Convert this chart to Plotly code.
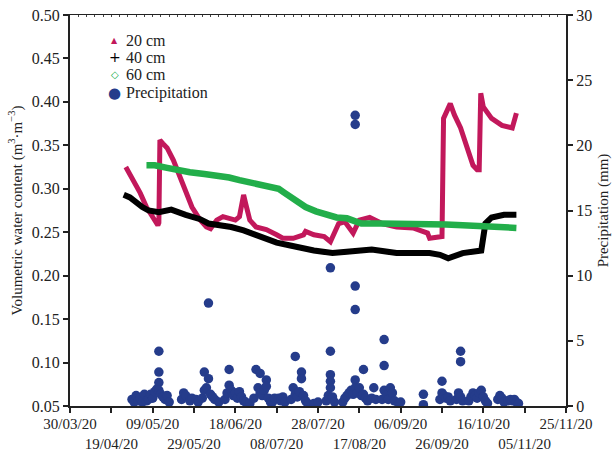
import plotly.graph_objects as go

# ---------------- data ----------------
tick_dates = ["2020-03-30", "2020-04-19", "2020-05-09", "2020-05-29", "2020-06-18",
              "2020-07-08", "2020-07-28", "2020-08-17", "2020-09-06", "2020-09-26",
              "2020-10-16", "2020-11-05", "2020-11-25"]
tick_labels = ["30/03/20", "19/04/20", "09/05/20", "29/05/20", "18/06/20", "08/07/20",
               "28/07/20", "17/08/20", "06/09/20", "26/09/20", "16/10/20", "05/11/20",
               "25/11/20"]

d20_dates = ["2020-04-26", "2020-04-29", "2020-05-03", "2020-05-06", "2020-05-09",
             "2020-05-11 12:00", "2020-05-12", "2020-05-12 12:00", "2020-05-14", "2020-05-16",
             "2020-05-19", "2020-05-22", "2020-05-25", "2020-05-28", "2020-06-01",
             "2020-06-04", "2020-06-06", "2020-06-09", "2020-06-12", "2020-06-15",
             "2020-06-18", "2020-06-20", "2020-06-22", "2020-06-23", "2020-06-25",
             "2020-06-28", "2020-07-03", "2020-07-08", "2020-07-11", "2020-07-16",
             "2020-07-21", "2020-07-22", "2020-07-26", "2020-07-31", "2020-08-03",
             "2020-08-07", "2020-08-10", "2020-08-14", "2020-08-17", "2020-08-22",
             "2020-08-28", "2020-09-04", "2020-09-12", "2020-09-19", "2020-09-20",
             "2020-09-26", "2020-09-26 18:00", "2020-09-30", "2020-10-02", "2020-10-05",
             "2020-10-08", "2020-10-11", "2020-10-13", "2020-10-14", "2020-10-14 18:00",
             "2020-10-16", "2020-10-20", "2020-10-25", "2020-10-30", "2020-11-01"]
d20_vwc = [0.325, 0.312, 0.295, 0.279, 0.266,
           0.258, 0.261, 0.356, 0.352, 0.347,
           0.333, 0.314, 0.297, 0.279, 0.264,
           0.256, 0.254, 0.264, 0.268, 0.266,
           0.264, 0.268, 0.293, 0.283, 0.264,
           0.256, 0.253, 0.247, 0.243, 0.243,
           0.247, 0.251, 0.247, 0.245, 0.239,
           0.260, 0.262, 0.249, 0.264, 0.267,
           0.260, 0.256, 0.255, 0.249, 0.243,
           0.245, 0.381, 0.398, 0.385, 0.370,
           0.347, 0.327, 0.322, 0.322, 0.410,
           0.394, 0.381, 0.373, 0.370, 0.387]

d40_dates = ["2020-04-25", "2020-04-28", "2020-05-04", "2020-05-07", "2020-05-12",
             "2020-05-18", "2020-05-25", "2020-06-01", "2020-06-05", "2020-06-11",
             "2020-06-16", "2020-06-22", "2020-06-28", "2020-07-03", "2020-07-08",
             "2020-07-14", "2020-07-19", "2020-07-26", "2020-08-04", "2020-08-11",
             "2020-08-17", "2020-08-23", "2020-08-29", "2020-09-04", "2020-09-13",
             "2020-09-20", "2020-09-25", "2020-09-29", "2020-10-06", "2020-10-13",
             "2020-10-15", "2020-10-17", "2020-10-20", "2020-10-26", "2020-11-01"]
d40_vwc = [0.293, 0.290, 0.279, 0.275, 0.273,
           0.276, 0.270, 0.265, 0.260, 0.258,
           0.256, 0.252, 0.247, 0.243, 0.238,
           0.235, 0.232, 0.229, 0.226, 0.227,
           0.228, 0.230, 0.228, 0.226, 0.226,
           0.226, 0.224, 0.220, 0.226, 0.228,
           0.229, 0.260, 0.267, 0.270, 0.270]

d60_dates = ["2020-05-06", "2020-05-10", "2020-05-16", "2020-05-22", "2020-05-27",
             "2020-06-03", "2020-06-08", "2020-06-15", "2020-06-20", "2020-06-27",
             "2020-07-04", "2020-07-09", "2020-07-12", "2020-07-17", "2020-07-22",
             "2020-07-27", "2020-08-01", "2020-08-06", "2020-08-11", "2020-08-15",
             "2020-08-18", "2020-08-27", "2020-09-04", "2020-09-13", "2020-09-20",
             "2020-09-28", "2020-10-06", "2020-10-14", "2020-10-19", "2020-10-26",
             "2020-11-01"]
d60_vwc = [0.327, 0.327, 0.324, 0.321, 0.319,
           0.317, 0.316, 0.313, 0.310, 0.307,
           0.304, 0.300, 0.295, 0.287, 0.279,
           0.274, 0.270, 0.267, 0.266, 0.263,
           0.260, 0.260, 0.260, 0.260, 0.260,
           0.259, 0.258, 0.257, 0.256, 0.256,
           0.255]

precip_dates = [
    "2020-04-29", "2020-04-30", "2020-05-01", "2020-05-02", "2020-05-03", "2020-05-04", "2020-05-05", "2020-05-06",
    "2020-05-07", "2020-05-08", "2020-05-09", "2020-05-10", "2020-05-11", "2020-05-12", "2020-05-12", "2020-05-12",
    "2020-05-12", "2020-05-13", "2020-05-14", "2020-05-15", "2020-05-16", "2020-05-17",
    "2020-05-23", "2020-05-24", "2020-05-25", "2020-05-27", "2020-05-28", "2020-05-30", "2020-05-31",
    "2020-06-02", "2020-06-03", "2020-06-03", "2020-06-04", "2020-06-05", "2020-06-05", "2020-06-06", "2020-06-07",
    "2020-06-08", "2020-06-10",
    "2020-06-13", "2020-06-14", "2020-06-15", "2020-06-15", "2020-06-16", "2020-06-17", "2020-06-18", "2020-06-19",
    "2020-06-20", "2020-06-21", "2020-06-22", "2020-06-23", "2020-06-25",
    "2020-06-27", "2020-06-28", "2020-06-29", "2020-06-30", "2020-06-30", "2020-07-01", "2020-07-02", "2020-07-03",
    "2020-07-03", "2020-07-04", "2020-07-05",
    "2020-07-06", "2020-07-07", "2020-07-09", "2020-07-10", "2020-07-11", "2020-07-12",
    "2020-07-15", "2020-07-16", "2020-07-17", "2020-07-17", "2020-07-18", "2020-07-19", "2020-07-20", "2020-07-20",
    "2020-07-21", "2020-07-22", "2020-07-23", "2020-07-26", "2020-07-28",
    "2020-08-01", "2020-08-02", "2020-08-03", "2020-08-03", "2020-08-03", "2020-08-03", "2020-08-03", "2020-08-04",
    "2020-08-05",
    "2020-08-09", "2020-08-10", "2020-08-11", "2020-08-12", "2020-08-13", "2020-08-14", "2020-08-15", "2020-08-15",
    "2020-08-15", "2020-08-15", "2020-08-15", "2020-08-15", "2020-08-16", "2020-08-17", "2020-08-18", "2020-08-19",
    "2020-08-19", "2020-08-20", "2020-08-21", "2020-08-23", "2020-08-24", "2020-08-25",
    "2020-08-28", "2020-08-29", "2020-08-29", "2020-08-29", "2020-08-30", "2020-08-31", "2020-09-01", "2020-09-02",
    "2020-09-03", "2020-09-05", "2020-09-06", "2020-09-17", "2020-09-17",
    "2020-09-25", "2020-09-26", "2020-09-26", "2020-09-27", "2020-09-28", "2020-09-29", "2020-09-30",
    "2020-10-03", "2020-10-04", "2020-10-05", "2020-10-05", "2020-10-05", "2020-10-06",
    "2020-10-09", "2020-10-10", "2020-10-11", "2020-10-12", "2020-10-13", "2020-10-14", "2020-10-15", "2020-10-16",
    "2020-10-17", "2020-10-18",
    "2020-10-23", "2020-10-24", "2020-10-25", "2020-10-26", "2020-10-28", "2020-10-29", "2020-10-30", "2020-10-31",
    "2020-11-01", "2020-11-02"]
precip_mm = [
    0.5, 0.3, 0.8, 0.4, 0.6, 0.3, 0.9, 0.4,
    0.5, 0.9, 0.6, 1.1, 1.3, 4.2, 2.6, 1.8,
    1.2, 0.9, 0.7, 0.5, 0.8, 0.3,
    0.5, 1.0, 0.8, 0.4, 0.6, 0.5, 0.3,
    0.6, 2.6, 1.2, 1.4, 7.9, 2.1, 0.9, 0.7,
    0.5, 0.3,
    0.5, 1.0, 2.8, 1.6, 1.2, 0.8, 1.0, 0.6,
    1.1, 0.7, 0.4, 0.3, 0.2,
    0.6, 2.8, 1.4, 2.5, 1.0, 0.8, 1.2, 2.0,
    1.5, 0.6, 0.3,
    0.3, 0.6, 0.6, 0.4, 0.7, 0.3,
    0.5, 1.4, 3.8, 0.9, 0.7, 1.1, 2.6, 2.1,
    0.8, 0.4, 0.2, 0.2, 0.3,
    0.4, 0.8, 10.6, 4.2, 2.4, 1.9, 1.4, 0.7,
    0.3,
    0.3, 0.6, 0.8, 1.0, 1.2, 0.9, 22.3, 21.6,
    9.2, 7.4, 2.0, 1.4, 1.0, 1.4, 0.8, 2.8,
    0.9, 0.6, 0.4, 0.6, 1.4, 0.5,
    0.5, 5.1, 3.1, 1.2, 0.8, 0.5, 1.4, 1.0,
    0.4, 0.2, 0.3, 0.9, 0.1,
    0.5, 1.9, 1.0, 0.8, 0.6, 0.7, 0.4,
    0.5, 1.0, 4.2, 3.4, 0.7, 0.4,
    0.4, 0.7, 1.0, 0.8, 0.6, 1.0, 1.2, 0.7,
    0.4, 0.2,
    0.5, 0.8, 0.6, 0.3, 0.4, 0.5, 0.4, 0.5,
    0.3, 0.2]

vwc_ticks = [0.05, 0.10, 0.15, 0.20, 0.25, 0.30, 0.35, 0.40, 0.45, 0.50]
precip_ticks = [0, 5, 10, 15, 20, 25, 30]

legend_labels = ["20 cm", "40 cm", "60 cm", "Precipitation"]
legend_symbols = ["▲", "+", "◇", "●"]

# ---------------- styling ----------------
RED = "#C2185B"
BLACK = "#000000"
GREEN = "#22AE4A"
NAVY = "#253C8B"
FONT = "Liberation Serif"
TICKFS = 16
XTICKFS = 15
FS = 15
AX = "#222222"

fig = go.Figure()

fig.add_trace(go.Scatter(x=d20_dates, y=d20_vwc, mode="lines", name="20 cm",
                         line=dict(color=RED, width=5), showlegend=False))
fig.add_trace(go.Scatter(x=d40_dates, y=d40_vwc, mode="lines", name="40 cm",
                         line=dict(color=BLACK, width=6), showlegend=False))
fig.add_trace(go.Scatter(x=d60_dates, y=d60_vwc, mode="lines", name="60 cm",
                         line=dict(color=GREEN, width=6.5), showlegend=False))
fig.add_trace(go.Scatter(x=precip_dates, y=precip_mm, mode="markers", yaxis="y2",
                         name="Precipitation",
                         marker=dict(color=NAVY, size=9.5, line=dict(width=0)),
                         showlegend=False))
# carrier for top frame axis
fig.add_trace(go.Scatter(x=[None], y=[None], xaxis="x2", showlegend=False,
                         hoverinfo="skip"))

ticktext = [lab if i % 2 == 0 else "<br>" + lab for i, lab in enumerate(tick_labels)]

# legend drawn as text (symbol + label) to match the tight row spacing
sym_colors = [RED, BLACK, GREEN, NAVY]
sym_sizes = [8, 14, 10, 15]
row_y = [0.936, 0.892, 0.847, 0.801]
annotations = []
for lab, sym, col, ss, yy in zip(legend_labels, legend_symbols, sym_colors, sym_sizes, row_y):
    annotations.append(dict(xref="paper", yref="paper", x=0.0907, y=yy,
                            xanchor="center", yanchor="middle", showarrow=False,
                            text=sym, font=dict(family="DejaVu Sans", size=ss, color=col)))
    annotations.append(dict(xref="paper", yref="paper", x=0.1089, y=yy,
                            xanchor="left", yanchor="middle", showarrow=False,
                            text=lab, font=dict(family=FONT, size=16, color="#222222")))

fig.update_layout(
    width=612, height=450,
    margin=dict(l=70, r=46, t=15, b=44),
    paper_bgcolor="white", plot_bgcolor="white",
    font=dict(family=FONT, size=TICKFS, color="#222222"),
    showlegend=False,
    annotations=annotations,
    xaxis=dict(type="date", range=[tick_dates[0], tick_dates[-1]],
               tickvals=tick_dates, ticktext=ticktext, tickangle=0,
               showline=True, linecolor=AX, linewidth=2,
               ticks="outside", ticklen=5, tickwidth=2, tickcolor=AX,
               ticklabelstandoff=-2,
               showgrid=False, zeroline=False, automargin=False,
               tickfont=dict(family=FONT, size=XTICKFS)),
    xaxis2=dict(type="date", range=[tick_dates[0], tick_dates[-1]],
                overlaying="x", side="top", anchor="y",
                showline=True, linecolor=AX, linewidth=1.2,
                ticks="inside", ticklen=2, tickwidth=1, tickcolor="#444444",
                tick0=tick_dates[0], dtick=4 * 86400000,
                showticklabels=False, showgrid=False, zeroline=False,
                automargin=False),
    yaxis=dict(range=[0.05, 0.50], tickvals=vwc_ticks, tickformat=".2f",
               showline=True, linecolor=AX, linewidth=2,
               ticks="outside", ticklen=5, tickwidth=2, tickcolor=AX,
               showgrid=False, zeroline=False, automargin=False,
               tickfont=dict(family=FONT, size=TICKFS),
               title=dict(text="Volumetric water content (m<sup>3</sup>·m<sup>−3</sup>)",
                          font=dict(family=FONT, size=FS), standoff=6)),
    yaxis2=dict(range=[0, 30], tickvals=precip_ticks, overlaying="y", side="right",
                anchor="x",
                showline=True, linecolor=AX, linewidth=2,
                ticks="outside", ticklen=5, tickwidth=2, tickcolor=AX,
                showgrid=False, zeroline=False, automargin=False,
                tickfont=dict(family=FONT, size=TICKFS),
                title=dict(text="Precipitation (mm)", font=dict(family=FONT, size=FS),
                           standoff=6)),
)

fig.write_html("out.html", config={"displayModeBar": False},
               post_script="document.body.style.margin='0';document.body.style.padding='0';")
